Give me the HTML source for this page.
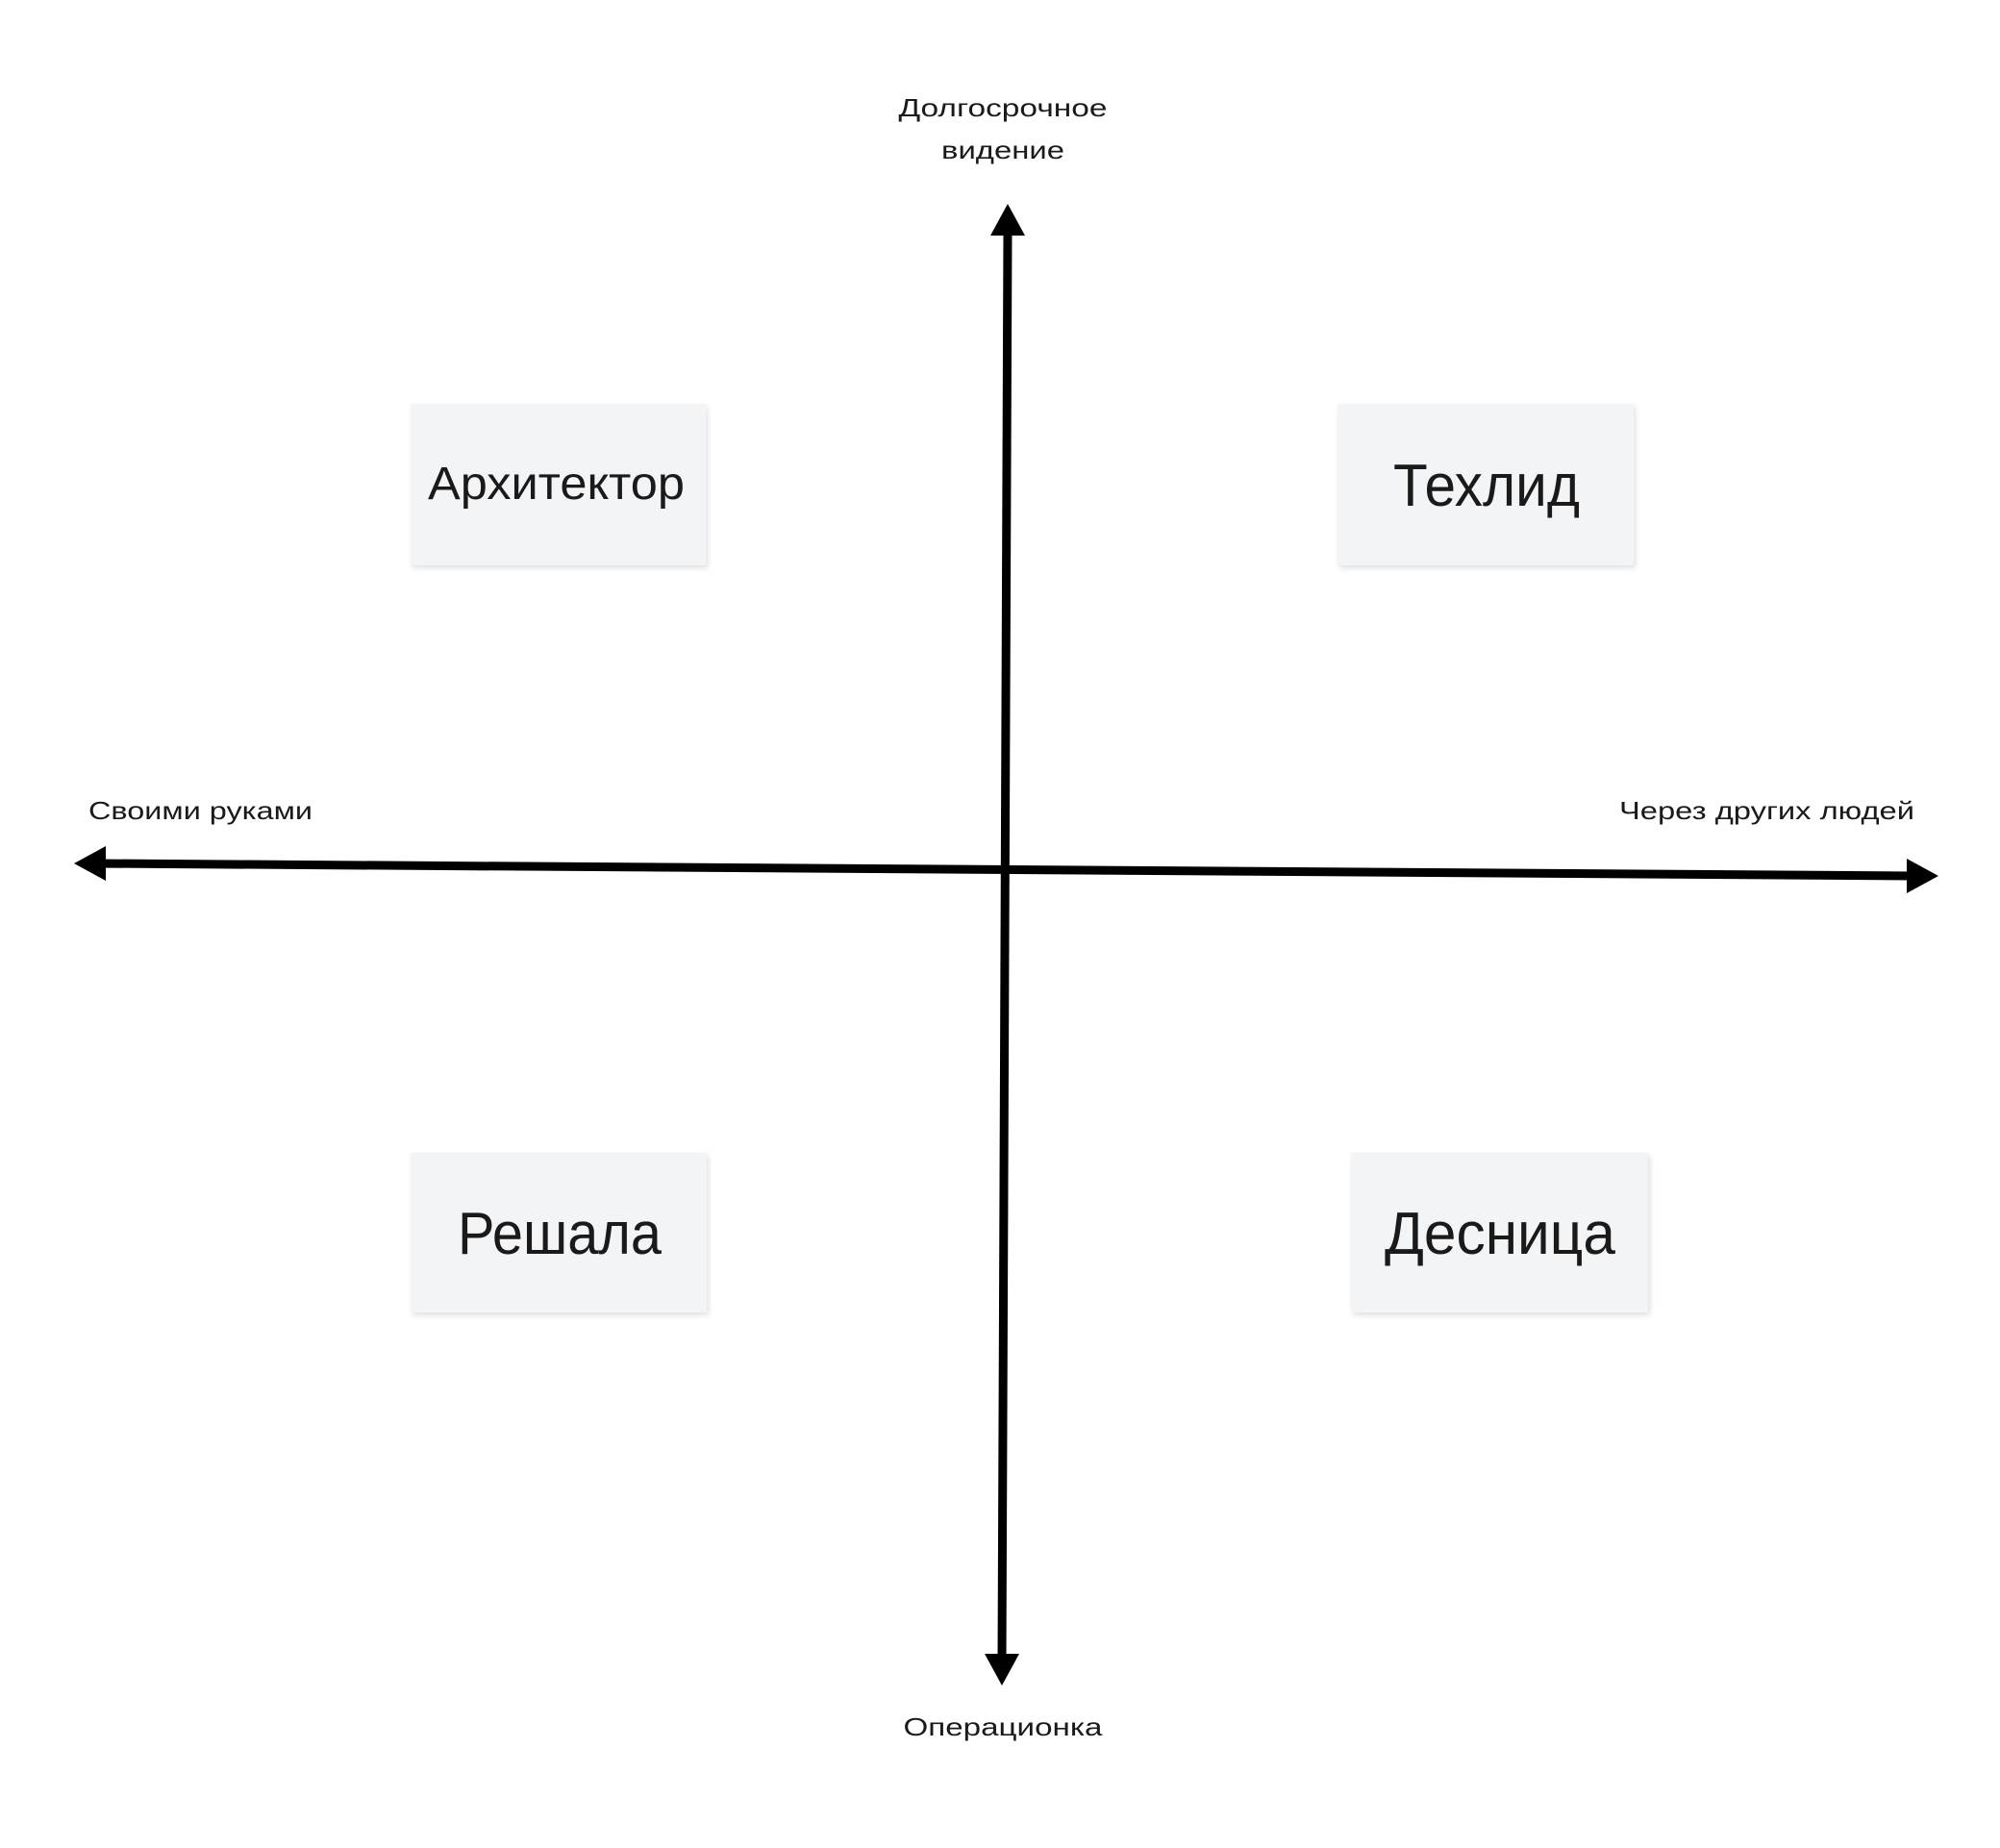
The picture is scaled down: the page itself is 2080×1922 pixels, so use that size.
<!DOCTYPE html>
<html><head><meta charset="utf-8"><style>
html,body{margin:0;padding:0;background:#fff;}
svg{display:block;}
text{font-family:"Liberation Sans","DejaVu Sans",sans-serif;fill:#1a1a1a;}
</style></head><body>
<svg width="2080" height="1922" viewBox="0 0 2080 1922" xmlns="http://www.w3.org/2000/svg">
<defs>
<filter id="sh" x="-10%" y="-10%" width="130%" height="130%">
<feDropShadow dx="2" dy="3" stdDeviation="3" flood-color="#000" flood-opacity="0.12"/>
</filter>
</defs>
<rect width="2080" height="1922" fill="#fff"/>
<!-- cards -->
<rect x="427" y="420" width="307" height="168" fill="#f3f4f6" filter="url(#sh)"/>
<rect x="1391" y="420" width="308" height="168" fill="#f3f4f6" filter="url(#sh)"/>
<rect x="427" y="1199" width="308" height="166" fill="#f3f4f6" filter="url(#sh)"/>
<rect x="1405" y="1199" width="309" height="166" fill="#f3f4f6" filter="url(#sh)"/>
<text x="445" y="519" font-size="48" textLength="267" lengthAdjust="spacingAndGlyphs">Архитектор</text>
<text x="1449" y="526" font-size="62" textLength="194" lengthAdjust="spacingAndGlyphs">Техлид</text>
<text x="476" y="1304" font-size="62" textLength="212" lengthAdjust="spacingAndGlyphs">Решала</text>
<text x="1440" y="1304" font-size="62" textLength="240" lengthAdjust="spacingAndGlyphs">Десница</text>
<!-- axes -->
<line x1="1048" y1="240" x2="1042" y2="1728" stroke="#000" stroke-width="9"/>
<polygon points="1048,212 1030,245 1066,245" fill="#000"/>
<polygon points="1042,1753 1024,1720 1060,1720" fill="#000"/>
<line x1="100" y1="898" x2="1990" y2="911" stroke="#000" stroke-width="9"/>
<polygon points="77,898 110,880 110,916" fill="#000"/>
<polygon points="2016,911 1983,893 1983,929" fill="#000"/>
<!-- labels -->
<text x="1043" y="121" font-size="26" text-anchor="middle" textLength="217" lengthAdjust="spacingAndGlyphs">Долгосрочное</text>
<text x="1043" y="165" font-size="26" text-anchor="middle" textLength="128" lengthAdjust="spacingAndGlyphs">видение</text>
<text x="92" y="852" font-size="26" textLength="233" lengthAdjust="spacingAndGlyphs">Своими руками</text>
<text x="1684" y="852" font-size="26" textLength="307" lengthAdjust="spacingAndGlyphs">Через других людей</text>
<text x="1043" y="1805" font-size="26" text-anchor="middle" textLength="207" lengthAdjust="spacingAndGlyphs">Операционка</text>
</svg>
</body></html>
